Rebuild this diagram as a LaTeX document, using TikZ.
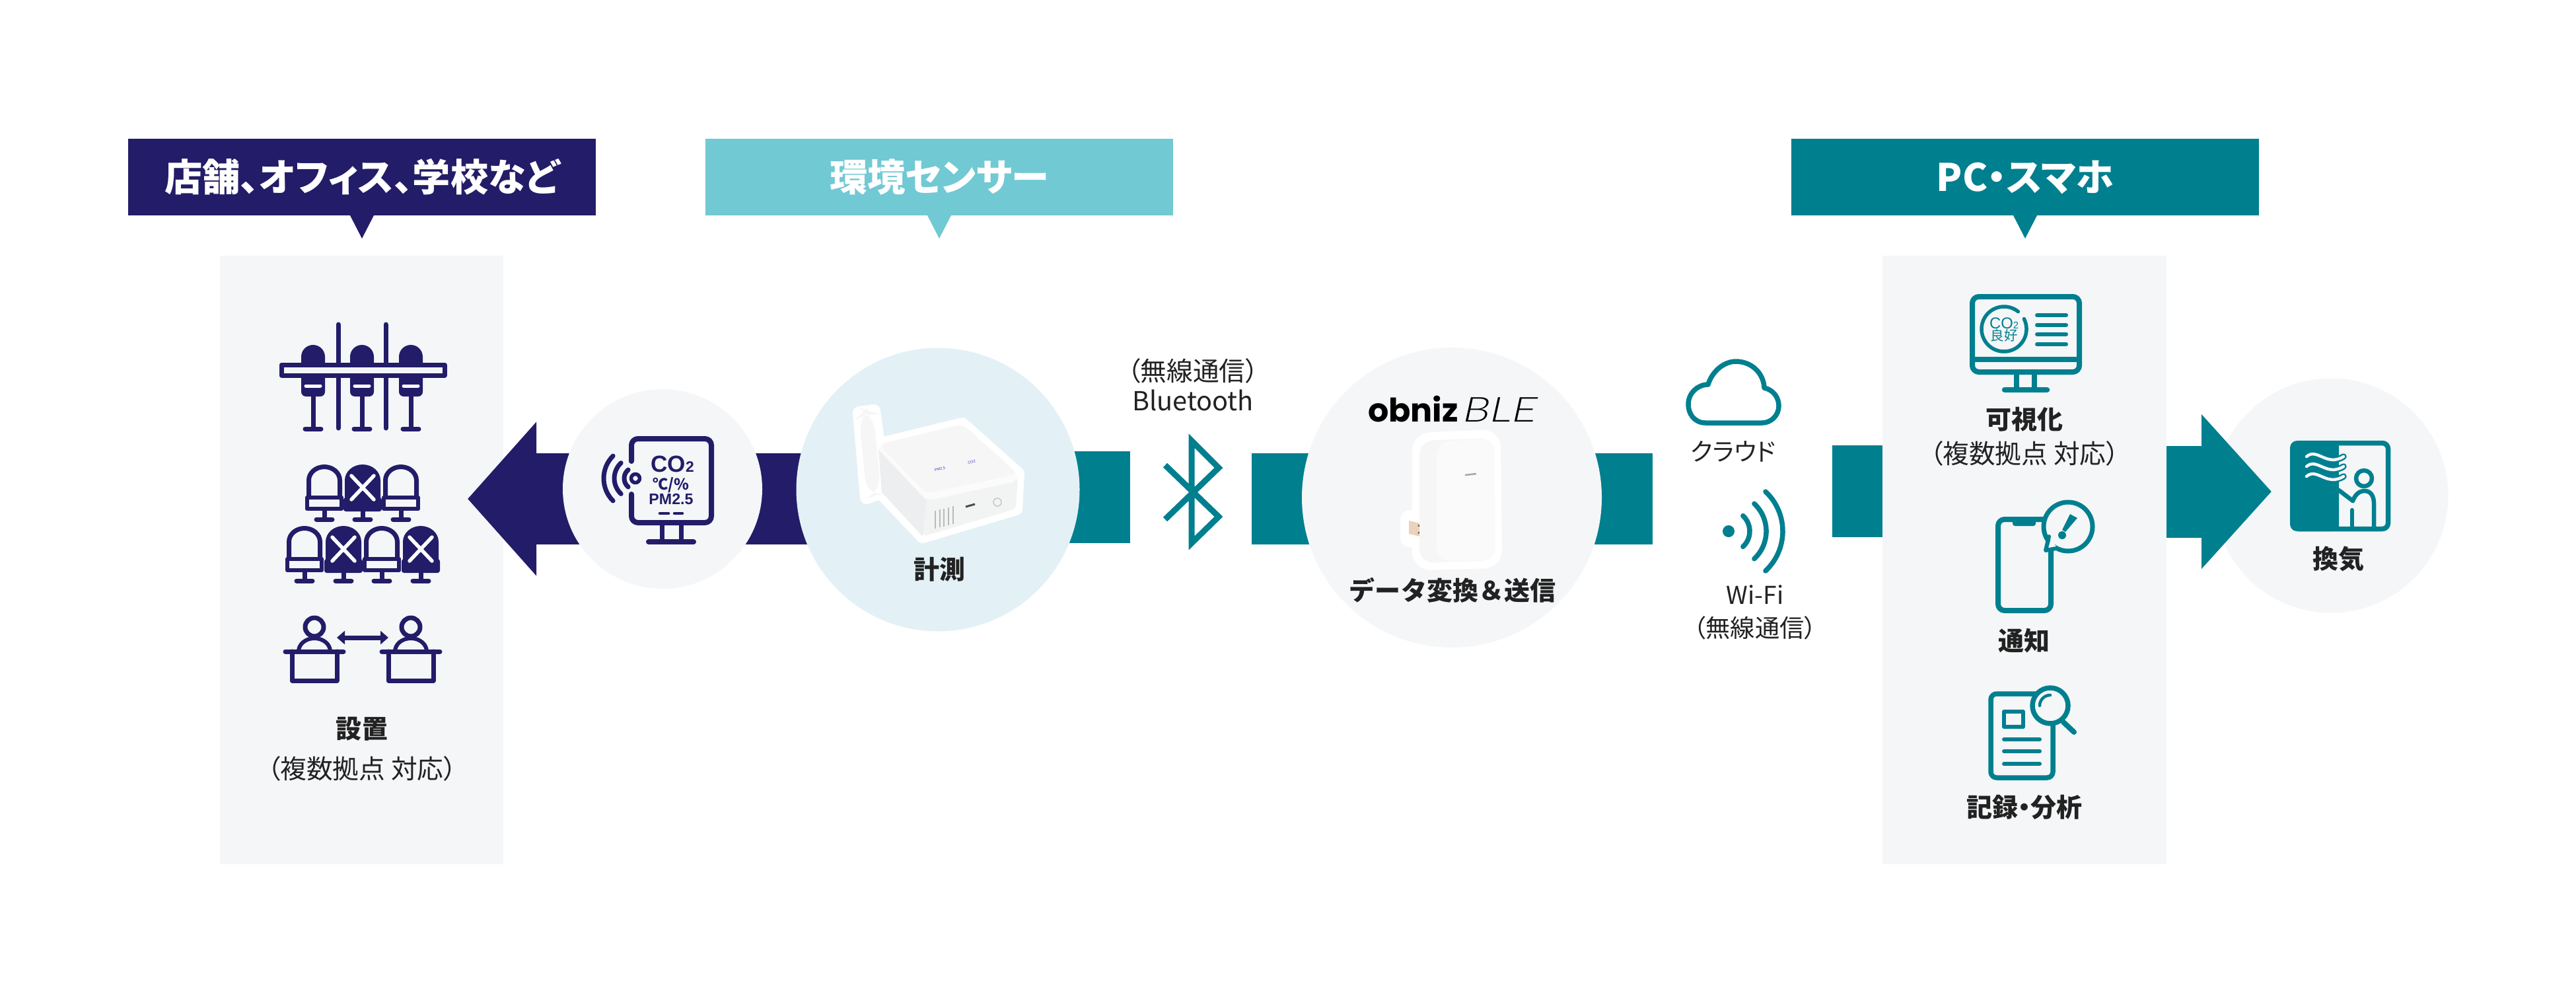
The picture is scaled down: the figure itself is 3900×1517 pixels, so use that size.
\documentclass[tikz,border=0pt]{standalone}
\usepackage{fontspec}
\setmainfont{Noto Sans CJK JP}[RawFeature=+palt]
\newfontfamily\fullfont{Noto Sans CJK JP}
\newfontfamily\logofont{Poppins}
\newfontfamily\blefont{Lato Light}[FakeSlant=0.22,FakeStretch=1.25]
\newfontfamily\iconfont{Liberation Sans}
\usetikzlibrary{arrows.meta, backgrounds}
\definecolor{deepnavy}{HTML}{231C68}
\definecolor{deepteal}{HTML}{007F8F}
\definecolor{paleteal}{HTML}{71C9D3}
\definecolor{panelgray}{HTML}{F4F6F8}
\definecolor{paleblue}{HTML}{E3F1F6}
\definecolor{inkgray}{HTML}{222222}
\definecolor{bodygray}{HTML}{F6F6F6}
\definecolor{sidegray}{HTML}{ECEEEF}
\tikzset{
   heading/.style={minimum height=11.6mm,text=white,font=\fontsize{16.3pt}{19pt}\selectfont\bfseries},
   panel/.style={fill=panelgray,minimum height=92.1mm},
   bold label/.style={text=inkgray,font=\fontsize{11.1pt}{13pt}\selectfont\bfseries},
   thin label/.style={text=inkgray,font=\fontsize{11.3pt}{13pt}\selectfont},
   small label/.style={text=inkgray,font=\fontsize{10.6pt}{12pt}\selectfont},
   navybar/.style={draw=deepnavy,line width=13.8mm},
   tealbar/.style={draw=deepteal,line width=13.9mm},
   navyline/.style={draw=deepnavy,line width=.7mm,line cap=round,line join=round},
   tealline/.style={draw=deepteal,line width=.75mm,line cap=round,line join=round},
}
\begin{document}
\begin{tikzpicture}[x=.1mm,y=-.1mm,every node/.style={outer sep=0,inner sep=0}]
   \useasboundingbox (0,0) rectangle (3900,1517);

   % headings and their pointers
   \node[heading,fill=deepnavy,minimum width=70.8mm] (placeHead) at (548,268) {店舗、オフィス、学校など};
   \node[heading,fill=paleteal,minimum width=70.8mm] (sensorHead) at (1422,268) {環境センサー};
   \node[heading,fill=deepteal,minimum width=70.8mm] (viewHead) at (3066,268) {PC・スマホ};
   \fill[deepnavy] (placeHead.south) ++(-18,0) -- ++(36,0) -- ++(-18,35) -- cycle;
   \fill[paleteal] (sensorHead.south) ++(-18,0) -- ++(36,0) -- ++(-18,35) -- cycle;
   \fill[deepteal] (viewHead.south) ++(-18,0) -- ++(36,0) -- ++(-18,35) -- cycle;

   % circles
   \node[circle,fill=panelgray,minimum size=30.2mm] (icon) at (1003,740) {};
   \node[circle,fill=paleblue,minimum size=42.9mm] (measure) at (1420,741) {};
   \node[circle,fill=panelgray,minimum size=45.4mm] (obniz) at (2198,753) {};
   \node[circle,fill=panelgray,minimum size=35.5mm] (air) at (3529,750) {};

   \coordinate (placeTip) at (708,755);
   \coordinate (btLeft) at (1711,752.5);
   \coordinate (btRight) at (1895,755);
   \coordinate (wifiEnd) at (2502,755);
   \coordinate (viewStart) at (2774,743);
   \coordinate (airTip) at (3439,744);
   \begin{scope}[on background layer]
      \node[panel,minimum width=42.9mm] (place) at (547.5,847.5) {};
      \node[panel,minimum width=43mm] (view) at (3065,847.5) {};
      \draw[tealbar] (1215,752.5) -- (btLeft);
      \draw[navybar,-{Triangle[length=10.4mm,width=22.7mm]}] (measure.center |- placeTip) -- (placeTip);
      \draw[tealbar,line width=13.8mm] (btRight) -- (wifiEnd);
      \draw[tealbar] (viewStart) -- (view.west |- viewStart);
   \end{scope}
   \draw[tealbar,-{Triangle[length=10.6mm,width=22.8mm]}] (view.east |- airTip) -- (airTip);

   % bar stools
   \foreach \x in {474,548,622} {
      \fill[deepnavy] (\x-18,550) -- (\x-18,540) arc (180:360:18) -- (\x+18,550) -- cycle;
      \fill[deepnavy,rounded corners=2pt] (\x-18,565) rectangle (\x+18,600);
      \draw[line width=.5mm,white,line cap=round] (\x-11,584) -- (\x+11,584);
      \draw[navyline] (\x,600) -- (\x,649) (\x-12,649) -- (\x+12,649);
   }
   \foreach \x in {512,584}
      \draw[navyline] (\x,491) -- (\x,648);
   \draw[navyline,fill=panelgray] (426,552) rectangle (673,568);

   % seats
   \foreach \x/\y/\full in {491/703/0,549/703/1,607/703/0,461/796/0,520/796/1,578/796/0,637/796/1} {
      \draw[navyline] (\x,\y+70) -- (\x,\y+83) (\x-12,\y+83) -- (\x+12,\y+83);
      \ifnum\full=1
         \fill[deepnavy] (\x-27,\y+52) -- (\x-27,\y+24) arc (180:360:27 and 24) -- (\x+27,\y+52) -- cycle;
         \fill[deepnavy,rounded corners=1pt] (\x-29,\y+50) rectangle (\x+29,\y+71);
         \draw[line width=.55mm,white,line cap=round] (\x-17,\y+17) -- (\x+17,\y+53) (\x+17,\y+17) -- (\x-17,\y+53);
      \else
         \draw[navyline] (\x-23.5,\y+50) -- (\x-23.5,\y+24) arc (180:360:23.5 and 20.5) -- (\x+23.5,\y+50);
         \draw[navyline,line width=.65mm,fill=panelgray] (\x-26,\y+50) rectangle (\x+26,\y+67);
      \fi
   }

   % people at desks
   \foreach \x in {476,622} {
      \draw[navyline] (\x,949) circle (14);
      \draw[navyline,line width=.6mm] (\x-24,986) arc (180:360:24 and 20);
      \draw[navyline] (\x-44,986) -- (\x+44,986);
      \draw[navyline] (\x-34,986) -- (\x-34,1030) -- (\x+34,1030) -- (\x+34,986);
   }
   \draw[navyline,{Triangle[length=1.2mm,width=2mm]}-{Triangle[length=1.2mm,width=2mm]}] (510,965) -- (588,965);

   \node[bold label] (placeLabel) at (548,1103) {設置};
   \node[thin label] (placeNote) at (548,1163) {（複数拠点 対応）};

   % sensor icon
   \draw[navyline,line width=.8mm,rounded corners=2.8pt] (956,698) -- (956,664) -- (1077,664) -- (1077,791) -- (956,791) -- (956,748);
   \draw[navyline] (1002,795) -- (1002,820) (1031,795) -- (1031,820);
   \draw[navyline,line width=.8mm] (982,820) -- (1050,820);
   \draw[navyline,line width=.55mm] (962,724) circle (6.5);
   \foreach \r/\a in {17/50,32/47,48/45}
      \draw[navyline] (962,724) ++(180-\a:\r) arc (180-\a:180+\a:\r);
   \node[text=deepnavy,font=\iconfont\fontsize{10pt}{10pt}\selectfont\bfseries] (iconCO) at (1018,702) {CO{\fontsize{6.5pt}{6.5pt}\selectfont 2}};
   \node[text=deepnavy,font=\fontsize{6.6pt}{7pt}\selectfont\bfseries] (iconTemp) at (1016,734) {℃/\%};
   \node[text=deepnavy,font=\iconfont\fontsize{6.6pt}{7pt}\selectfont\bfseries] (iconPM) at (1016,756) {PM2.5};
   \draw[navyline,line width=.45mm] (999,777) -- (1012,777) (1021,777) -- (1033,777);

   % sensor device
   \draw[white,fill=white,line width=2mm,line join=round] (1301,625) -- (1323,622) -- (1330,673) -- (1457,642) -- (1541,717) -- (1538,770) -- (1397,812) -- (1333,745) -- (1312,753) -- cycle;
   \fill[bodygray,rounded corners=8pt] (1300,630) -- (1310,620) -- (1322,624) -- (1334,748) -- (1313,754) -- cycle;
   \fill[sidegray] (1330,680) -- (1403,757) -- (1397,812) -- (1335,745) -- cycle;
   \fill[bodygray!60!sidegray,rounded corners=2pt] (1403,750) -- (1541,722) -- (1538,770) -- (1397,812) -- cycle;
   \fill[white!60!bodygray,rounded corners=3pt] (1330,680) -- (1332,672) -- (1457,642) -- (1541,717) -- (1541,728) -- (1403,758) -- cycle;
   \fill[bodygray,rounded corners=3pt] (1331,673) -- (1457,642) -- (1541,717) -- (1403,747) -- cycle;
   \foreach \x/\y in {1416/773,1423/771,1429/770,1436/768,1443/766}
      \draw[gray!55,line width=.18mm] (\x,\y) -- (\x,\y+27);
   \draw[black!70,line width=.3mm] (1462,767) -- (1476,763);
   \draw[gray!45,line width=.15mm] (1510,760) circle (6);
   \node[text=blue!55!gray,rotate=12,font=\iconfont\fontsize{1.6pt}{2pt}\selectfont] (ledPM) at (1423,710) {PM2.5};
   \node[text=blue!55!gray,rotate=12,font=\iconfont\fontsize{1.6pt}{2pt}\selectfont] (ledCO) at (1471,699) {CO2};
   \node[bold label] (measureLabel) at (1422,862) {計測};

   % bluetooth
   \draw[draw=deepteal,line width=.9mm,miter limit=10] (1764,704) -- (1845,782) -- (1804,822) -- (1804,667) -- (1845,708) -- (1764,786);
   \node[thin label] (btNote) at (1806,561) {（無線通信）};
   \node[thin label] (btLabel) at (1806,606) {Bluetooth};

   % obniz device
   \node[anchor=base west,text=black,font=\logofont\fontsize{14pt}{14pt}\selectfont\bfseries] (logo) at (2071,638) {obniz};
   \node[anchor=base west,text=black,font=\blefont\fontsize{14.8pt}{15pt}\selectfont] (ble) at (2212,638) {BLE};
   \draw[white,fill=white,line width=2mm,rounded corners=5pt] (2148,665) -- (2262,660) -- (2264,850) -- (2148,853) -- cycle;
   \fill[white,rounded corners=4pt] (2120,772) rectangle (2155,828);
   \fill[gray!45!orange!35!white] (2133,788) -- (2150,792) -- (2150,812) -- (2133,808) -- cycle;
   \draw[black!70,line width=.2mm] (2147,795) arc (270:90:-4 and 6);
   \fill[bodygray,rounded corners=6pt] (2149,667) -- (2262,663) -- (2264,848) -- (2149,852) -- cycle;
   \fill[white!40!bodygray,rounded corners=6pt] (2175,668) -- (2262,664) -- (2264,847) -- (2175,850) -- cycle;
   \draw[gray!70,line width=.25mm] (2218,719) -- (2235,717);
   \node[bold label,font=\fullfont\fontsize{11.1pt}{13pt}\selectfont\bfseries] (obnizLabel) at (2199,893) {データ変換＆送信};

   % cloud and wifi
   \draw[tealline] (2582,640) .. controls (2565,640) and (2556,626) .. (2556,612) .. controls (2556,595) and (2570,582) .. (2586,582) .. controls (2592,562) and (2610,547) .. (2628,547) .. controls (2652,547) and (2670,565) .. (2671,587) .. controls (2685,590) and (2693,602) .. (2693,614) .. controls (2693,630) and (2680,640) .. (2668,640) -- cycle;
   \node[small label] (cloudLabel) at (2624,683) {クラウド};
   \fill[deepteal] (2617,804) circle (9);
   \foreach \r in {32,57,82}
      \draw[tealline] (2617,804) ++(-47:\r) arc (-47:47:\r);
   \node[small label] (wifiLabel) at (2657,900) {Wi-Fi};
   \node[small label] (wifiNote) at (2657,950) {（無線通信）};

   % monitor
   \draw[tealline,line width=.8mm,rounded corners=2.8pt] (2986,449) rectangle (3148,563);
   \draw[tealline,line width=.8mm,line cap=butt] (2986,544) -- (3148,544);
   \draw[tealline] (3053,563) -- (3053,590) (3080,563) -- (3080,590);
   \draw[tealline,line width=.85mm] (3035,590) -- (3099,590);
   \draw[tealline,line width=.55mm] (3034,498) ++(-27:34) arc (-27:309:34);
   \node[text=deepteal,font=\iconfont\fontsize{6.8pt}{7pt}\selectfont] (gaugeCO) at (3034,489) {CO{\fontsize{4.2pt}{4pt}\selectfont 2}};
   \node[text=deepteal,font=\fontsize{5.8pt}{6pt}\selectfont] (gaugeText) at (3034,508) {良好};
   \foreach \y in {477,492,506,521}
      \draw[tealline,line width=.6mm] (3084,\y) -- (3128,\y);
   \node[bold label] (viewLabel) at (3065,635) {可視化};
   \node[thin label] (viewNote) at (3065,686) {（複数拠点 対応）};

   % phone
   \draw[tealline,line width=.8mm,rounded corners=2.8pt] (3025,786) rectangle (3105,924);
   \fill[deepteal,rounded corners=1pt] (3047,786) -- (3082,786) -- (3082,796) -- (3047,796) -- cycle;
   \draw[tealline,line width=.7mm,fill=panelgray] (3131,797) circle (37);
   \fill[panelgray] (3105,815) -- (3115,830) -- (3100,832) -- cycle;
   \draw[tealline,line width=.6mm] (3102,812) -- (3097,833) -- (3113,830);
   \fill[deepteal] (3134,778) -- (3145,784) -- (3127,805) -- (3122,802) -- cycle;
   \fill[deepteal] (3122,810) circle (6);
   \node[bold label] (phoneLabel) at (3064,970) {通知};

   % record sheet
   \draw[tealline,rounded corners=2.5pt] (3014,1050) rectangle (3108,1177);
   \draw[tealline,line width=.6mm] (3034,1077) rectangle (3063,1100);
   \foreach \y in {1119,1137,1156}
      \draw[tealline,line width=.6mm] (3034,\y) -- (3088,\y);
   \draw[tealline,line width=.8mm] (3124,1093) -- (3140,1108);
   \draw[tealline,fill=panelgray] (3104,1068) circle (27);
   \draw[tealline,line width=.45mm] (3088,1068) arc (180:270:16);
   \node[bold label] (recordLabel) at (3065,1222) {記録・分析};

   % ventilation
   \fill[deepteal,rounded corners=3pt] (3467,667) rectangle (3541,804);
   \draw[tealline,rounded corners=2.5pt] (3480,670.5) -- (3615.5,670.5) -- (3615.5,800.5) -- (3480,800.5);
   \fill[deepteal] (3480,667) rectangle (3541,804);
   \foreach \y in {691,706,721} {
      \draw[deepteal,line width=.95mm,line cap=round] (3492,\y) .. controls (3508,\y-14) and (3522,\y+16) .. (3548,\y);
      \draw[panelgray,line width=.45mm,line cap=round] (3492,\y) .. controls (3508,\y-14) and (3522,\y+16) .. (3548,\y);
   }
   \draw[tealline,line width=.65mm] (3579,724) circle (12);
   \draw[tealline,line width=.65mm] (3562,758) .. controls (3566,748) and (3572,743) .. (3580,743) .. controls (3590,743) and (3594,752) .. (3594,762) -- (3594,797);
   \draw[tealline,line width=.65mm] (3541,742) -- (3562,758);
   \draw[tealline,line width=.65mm] (3561,772) -- (3561,797);
   \node[bold label] (airLabel) at (3540,846) {換気};
\end{tikzpicture}
\end{document}
